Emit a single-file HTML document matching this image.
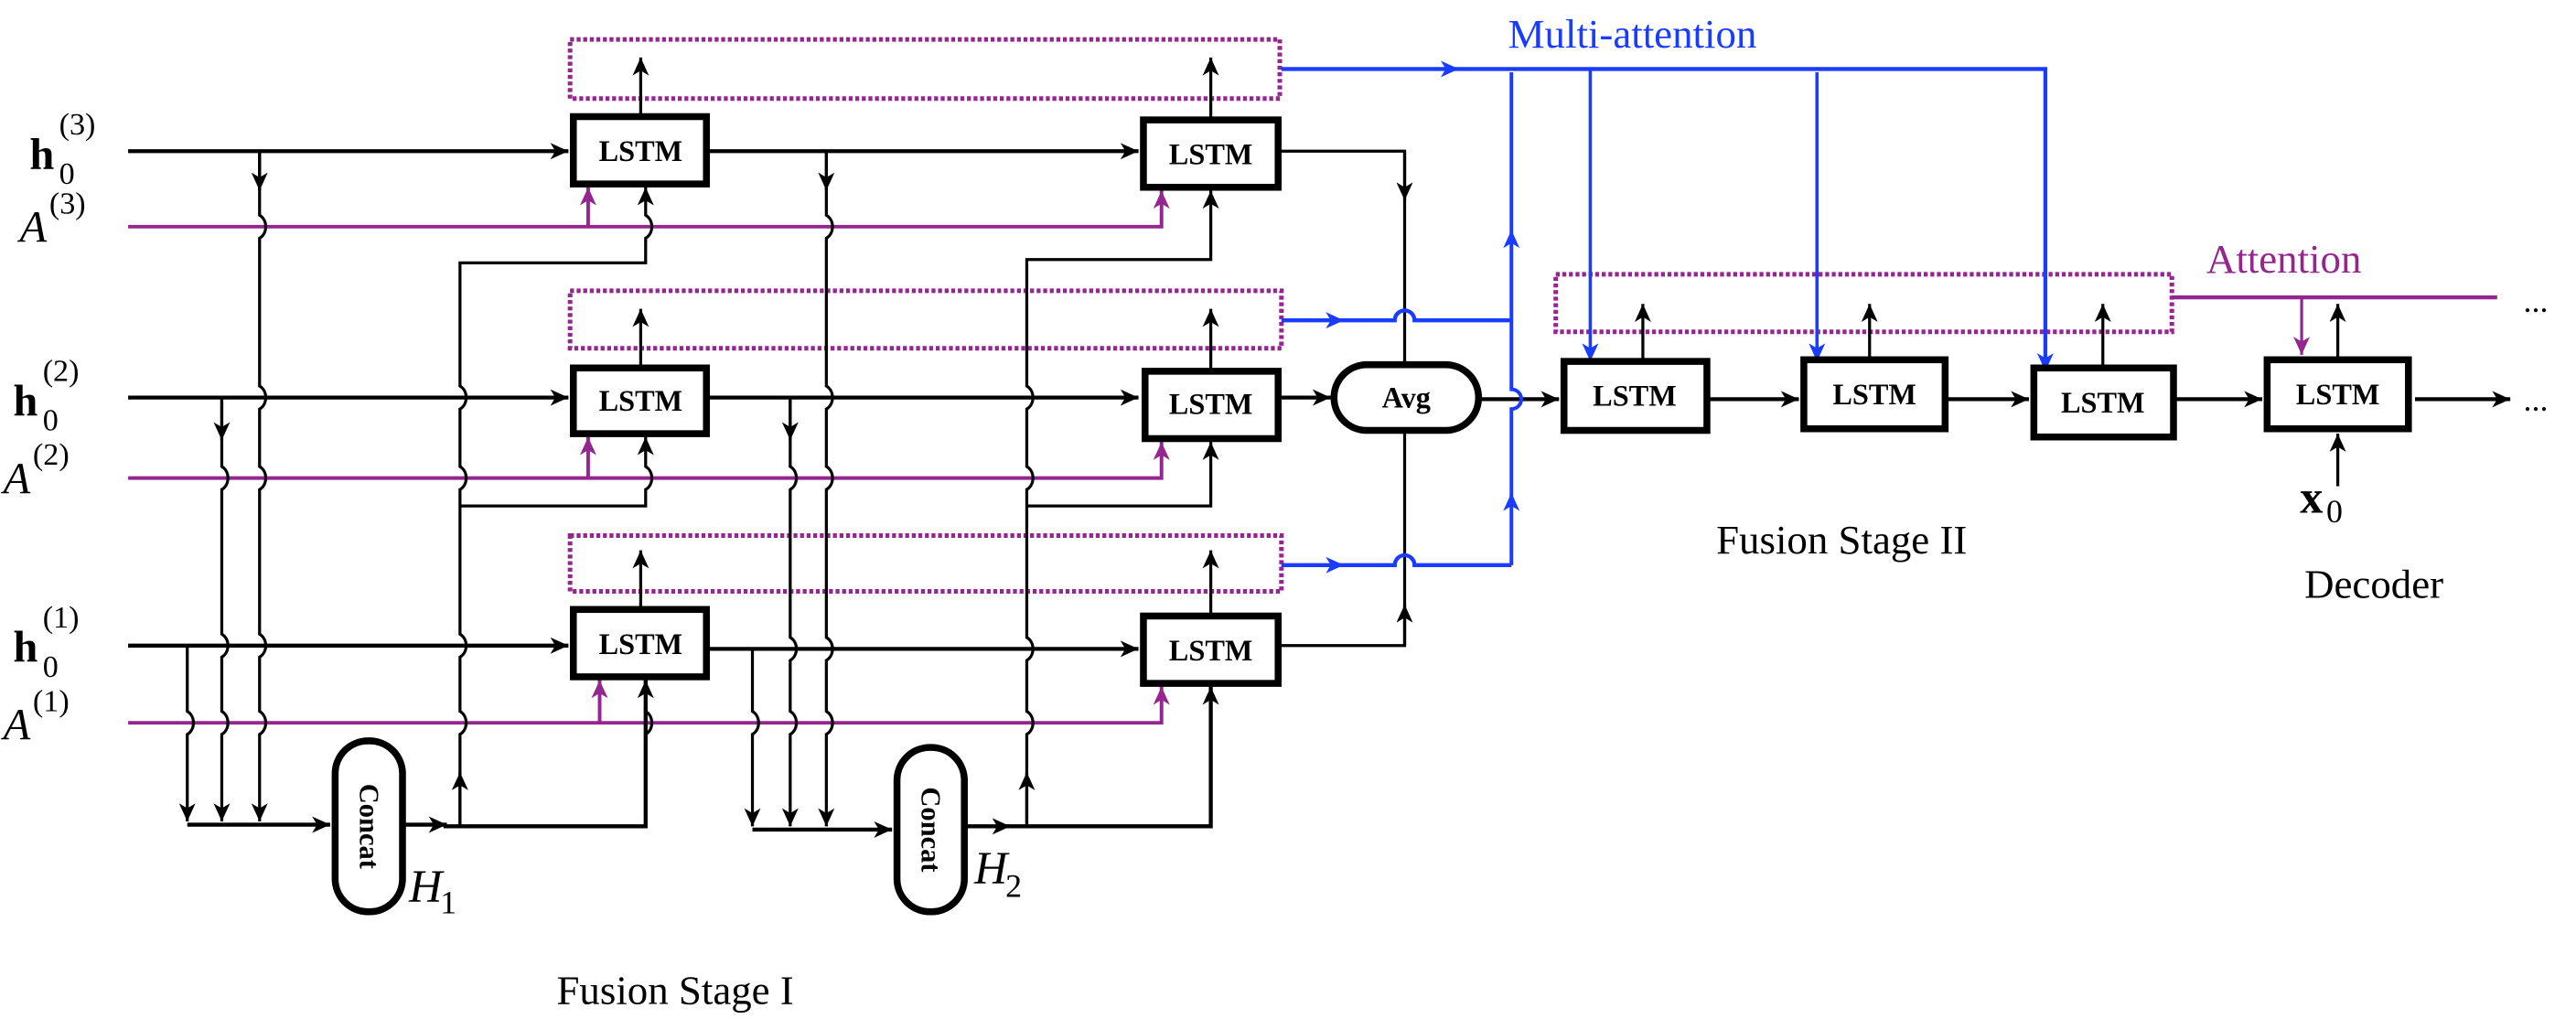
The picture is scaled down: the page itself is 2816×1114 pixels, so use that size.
<!DOCTYPE html>
<html><head><meta charset="utf-8"><style>html,body{margin:0;padding:0;background:#fff}svg{display:block}svg text{font-family:"Liberation Serif","Times New Roman",Times,"DejaVu Serif",serif}</style></head>
<body>
<svg width="2816" height="1114" viewBox="0 0 1568 620.3" preserveAspectRatio="none" xmlns="http://www.w3.org/2000/svg">
<defs>
<marker id="ak" markerUnits="userSpaceOnUse" markerWidth="14" markerHeight="10" refX="11" refY="5" orient="auto"><path d="M0,0 L11,5 L0,10 L3,5 z" fill="#000"/></marker>
<marker id="ap" markerUnits="userSpaceOnUse" markerWidth="14" markerHeight="10" refX="11" refY="5" orient="auto"><path d="M0,0 L11,5 L0,10 L3,5 z" fill="#93278f"/></marker>
<marker id="ab" markerUnits="userSpaceOnUse" markerWidth="14" markerHeight="10" refX="11" refY="5" orient="auto"><path d="M0,0 L11,5 L0,10 L3,5 z" fill="#1a3cff"/></marker>
</defs>
<rect width="1568" height="620.3" fill="#fff"/>

<g fill="none" stroke="#93278f" stroke-width="2.8" stroke-dasharray="2.4,1.6">
<rect x="347" y="24" width="432" height="36"/>
<rect x="347" y="177" width="433" height="35"/>
<rect x="347" y="326" width="433" height="34"/>
<rect x="947" y="167" width="375" height="35"/>
</g>

<g font-size="27">
<text x="18" y="103" font-weight="bold">h</text><text x="36" y="112" font-size="19">0</text><text x="36" y="82" font-size="19">(3)</text>
<text x="12" y="147" font-style="italic">A</text><text x="30" y="130" font-size="19">(3)</text>
<text x="8" y="253" font-weight="bold">h</text><text x="26" y="262" font-size="19">0</text><text x="26" y="232" font-size="19">(2)</text>
<text x="2" y="300" font-style="italic">A</text><text x="20" y="283" font-size="19">(2)</text>
<text x="8" y="403" font-weight="bold">h</text><text x="26" y="412" font-size="19">0</text><text x="26" y="382" font-size="19">(1)</text>
<text x="2" y="450" font-style="italic">A</text><text x="20" y="433" font-size="19">(1)</text>
</g>

<g fill="none" stroke="#93278f" stroke-width="2.2">
<path d="M78,138 H707 V116" marker-end="url(#ap)"/>
<path d="M358,138 V114" marker-end="url(#ap)"/>
<path d="M78,291 H707 V269" marker-end="url(#ap)"/>
<path d="M358,291 V266" marker-end="url(#ap)"/>
<path d="M78,440 H707 V418" marker-end="url(#ap)"/>
<path d="M365,440 V414" marker-end="url(#ap)"/>
</g>

<g fill="none" stroke="#000" stroke-width="2.4">
<path d="M78,92 H346" marker-end="url(#ak)"/>
<path d="M78,242 H346" marker-end="url(#ak)"/>
<path d="M78,393 H346" marker-end="url(#ak)"/>
<path d="M432,92 H693" marker-end="url(#ak)"/>
<path d="M432,242 H693" marker-end="url(#ak)"/>
<path d="M432,395 H693" marker-end="url(#ak)"/>
<path d="M780,242 H810" marker-end="url(#ak)"/>
<path d="M900,243 H949" marker-end="url(#ak)"/>
<path d="M1039,243 H1095" marker-end="url(#ak)"/>
<path d="M1184,243 H1235" marker-end="url(#ak)"/>
<path d="M1323,243 H1377" marker-end="url(#ak)"/>
<path d="M1470,243 H1528" marker-end="url(#ak)"/>
<path d="M114,502 H201" marker-end="url(#ak)"/>
<path d="M245,502 H272" marker-end="url(#ak)"/>
<path d="M270,503 H393 V414"/>
<path d="M458,505 H543" marker-end="url(#ak)"/>
<path d="M587,503 H615" marker-end="url(#ak)"/>
<path d="M612,503 H737 V418"/>
</g>

<g fill="none" stroke="#000" stroke-width="1.8">
<path d="M158,92 V131 c5,3 5,11 0,14 V235 c5,3 5,11 0,14 V284 c5,3 5,11 0,14 V386 c5,3 5,11 0,14 V433 c5,3 5,11 0,14 V500" marker-end="url(#ak)"/>
<path d="M158,92 V116" marker-end="url(#ak)"/>
<path d="M135,242 V284 c5,3 5,11 0,14 V386 c5,3 5,11 0,14 V433 c5,3 5,11 0,14 V500" marker-end="url(#ak)"/>
<path d="M135,242 V268" marker-end="url(#ak)"/>
<path d="M114,393 V433 c5,3 5,11 0,14 V500" marker-end="url(#ak)"/>
<path d="M503,92 V131 c5,3 5,11 0,14 V235 c5,3 5,11 0,14 V284 c5,3 5,11 0,14 V388 c5,3 5,11 0,14 V433 c5,3 5,11 0,14 V503" marker-end="url(#ak)"/>
<path d="M503,92 V116" marker-end="url(#ak)"/>
<path d="M481,242 V284 c5,3 5,11 0,14 V388 c5,3 5,11 0,14 V433 c5,3 5,11 0,14 V503" marker-end="url(#ak)"/>
<path d="M481,242 V268" marker-end="url(#ak)"/>
<path d="M458,395 V433 c5,3 5,11 0,14 V503" marker-end="url(#ak)"/>
<path d="M280,503 V447 c5,-3 5,-11 0,-14 V400 c5,-3 5,-11 0,-14 V298 c5,-3 5,-11 0,-14 V249 c5,-3 5,-11 0,-14 V160 H393 V145 c5,-3 5,-11 0,-14 V114" marker-end="url(#ak)"/>
<path d="M280,503 V470" marker-end="url(#ak)"/>
<path d="M280,308 H393 V298 c5,-3 5,-11 0,-14 V266" marker-end="url(#ak)"/>
<path d="M393,503 V447 c5,-3 5,-11 0,-14 V414" marker-end="url(#ak)"/>
<path d="M625,503 V447 c5,-3 5,-11 0,-14 V402 c5,-3 5,-11 0,-14 V298 c5,-3 5,-11 0,-14 V249 c5,-3 5,-11 0,-14 V158 H737 V116" marker-end="url(#ak)"/>
<path d="M625,503 V470" marker-end="url(#ak)"/>
<path d="M625,308 H737 V269" marker-end="url(#ak)"/>
<path d="M737,503 V418" marker-end="url(#ak)"/>
<path d="M778,92 H855 V221"/>
<path d="M855,92 V122" marker-end="url(#ak)"/>
<path d="M778,393 H855 V263"/>
<path d="M855,393 V368" marker-end="url(#ak)"/>
<path d="M390,70 V35" marker-end="url(#ak)"/>
<path d="M737,72 V35" marker-end="url(#ak)"/>
<path d="M390,223 V188" marker-end="url(#ak)"/>
<path d="M737,225 V188" marker-end="url(#ak)"/>
<path d="M390,370 V335" marker-end="url(#ak)"/>
<path d="M737,375 V335" marker-end="url(#ak)"/>
<path d="M1000,219 V185" marker-end="url(#ak)"/>
<path d="M1138,218 V185" marker-end="url(#ak)"/>
<path d="M1280,223 V185" marker-end="url(#ak)"/>
<path d="M1423,218 V185" marker-end="url(#ak)"/>
<path d="M1423,296 V264" marker-end="url(#ak)"/>
</g>

<g fill="none" stroke="#1a3cff" stroke-width="2">
<path d="M780,42 H1245 V227" stroke-width="2.4"/>
<path d="M780,42 H888" marker-end="url(#ab)"/>
<path d="M968,42 V220" marker-end="url(#ab)"/>
<path d="M1106,44 V220" marker-end="url(#ab)"/>
<path d="M1245,100 V226" marker-end="url(#ab)"/>
<path d="M780,195 H849 a6,6 0 0 1 12,0 H920" stroke-width="2.4"/>
<path d="M780,195 H818" marker-end="url(#ab)"/>
<path d="M780,344 H849 a6,6 0 0 1 12,0 H920" stroke-width="2.4"/>
<path d="M780,344 H818" marker-end="url(#ab)"/>
<path d="M920,344 V249 a6,6 0 0 0 0,-12 V44" stroke-width="2.2"/>
<path d="M920,344 V300" marker-end="url(#ab)"/>
<path d="M920,237 V140" marker-end="url(#ab)"/>
</g>

<g fill="none" stroke="#93278f" stroke-width="2.4">
<path d="M1322,181 H1520"/>
<path d="M1401,181 V216" stroke-width="1.8" marker-end="url(#ap)"/>
</g>

<g fill="#fff" stroke="#000" stroke-width="4.2">
<rect x="349" y="71" width="81" height="41"/>
<rect x="696" y="73" width="82" height="41"/>
<rect x="349" y="224" width="81" height="40"/>
<rect x="697" y="226" width="81" height="41"/>
<rect x="349" y="371" width="81" height="41"/>
<rect x="696" y="375" width="82" height="41"/>
<rect x="952" y="220" width="87" height="42"/>
<rect x="1098" y="219" width="86" height="42"/>
<rect x="1238" y="224" width="85" height="42"/>
<rect x="1380" y="219" width="86" height="42"/>
<rect x="812" y="222" width="88" height="40" rx="20"/>
<rect x="204" y="451" width="41" height="104" rx="20"/>
<rect x="546" y="455" width="41" height="100" rx="20"/>
</g>
<g font-size="18" font-weight="bold" text-anchor="middle">
<text x="390" y="98">LSTM</text>
<text x="737" y="100">LSTM</text>
<text x="390" y="250">LSTM</text>
<text x="737" y="252">LSTM</text>
<text x="390" y="398">LSTM</text>
<text x="737" y="402">LSTM</text>
<text x="995" y="247">LSTM</text>
<text x="1141" y="246">LSTM</text>
<text x="1280" y="251">LSTM</text>
<text x="1423" y="246">LSTM</text>
<text x="856" y="248">Avg</text>
<text transform="translate(219,503) rotate(90)" font-size="17">Concat</text>
<text transform="translate(561,505) rotate(90)" font-size="17">Concat</text>
</g>

<g font-size="28">
<text x="249" y="549" font-style="italic">H</text><text x="268" y="556" font-size="20">1</text>
<text x="593" y="538" font-style="italic">H</text><text x="612" y="546" font-size="20">2</text>
<text x="1400" y="312" font-weight="bold">x</text><text x="1416" y="318" font-size="20">0</text>
</g>
<g font-size="25">
<text x="411" y="611" text-anchor="middle">Fusion Stage I</text>
<text x="1121" y="337" text-anchor="middle">Fusion Stage II</text>
<text x="1445" y="364" text-anchor="middle">Decoder</text>
<text x="918" y="29" fill="#1a3cff">Multi-attention</text>
<text x="1343" y="166" fill="#93278f">Attention</text>
<text x="1536" y="190" font-size="20">...</text>
<text x="1536" y="250" font-size="20">...</text>
</g>
</svg>
</body></html>
